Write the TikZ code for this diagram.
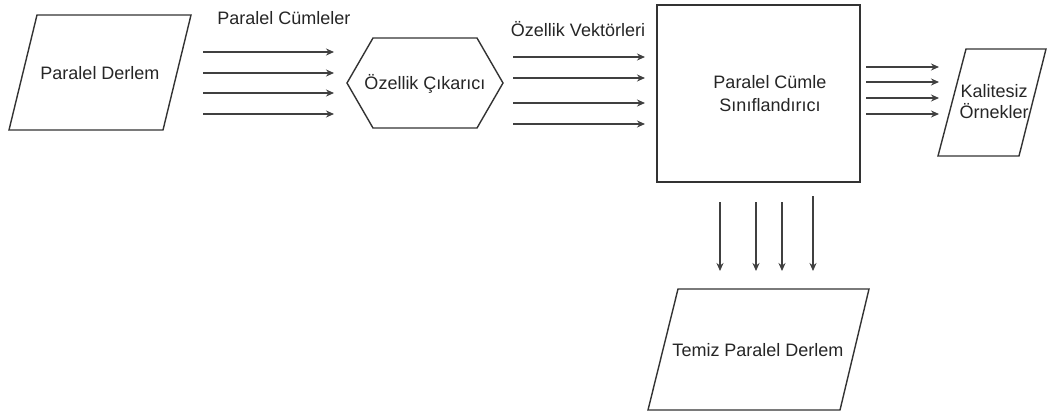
\documentclass[tikz,border=0pt]{standalone}
\usepackage{fontspec}
\setmainfont{Liberation Sans}
\usetikzlibrary{arrows.meta}
\tikzset{
  shapeline/.style={draw=black!80, line width=1.4pt, line join=miter},
  flow/.style={draw=black!75, line width=1.5pt, -{Stealth[length=8pt,width=7pt]}},
  lbl/.style={font=\fontsize{18}{23}\selectfont, text=black!85, inner sep=0pt, align=center},
}
\begin{document}
\begin{tikzpicture}[x=1pt,y=-1pt]
\useasboundingbox (0,0) rectangle (1049,416);
\fill[white] (0,0) rectangle (1049,416);

% input corpus
\draw[shapeline] (37,15) -- (191,15) -- (163,130) -- (9,130) -- cycle;
\node[lbl] (corpus) at (100,73) {Paralel Derlem};

% feature extractor
\draw[shapeline] (347,83) -- (373,38) -- (477,38) -- (503,83) -- (477,128) -- (373,128) -- cycle;
\node[lbl] (extract) at (425,84) {Özellik Çıkarıcı};

% classifier
\draw[shapeline] (657,5) rectangle (860,182);
\node[lbl] (classify) at (770,94) {Paralel Cümle\\Sınıflandırıcı};

% rejected samples
\draw[shapeline] (966,49) -- (1046,49) -- (1019,156) -- (938,156) -- cycle;
\node[lbl, align=center, font=\fontsize{18}{21}\selectfont] (bad) at (994,102) {Kalitesiz\\Örnekler};

% clean corpus
\draw[shapeline] (678,289) -- (869,289) -- (840,410) -- (648,410) -- cycle;
\node[lbl] (clean) at (758,350) {Temiz Paralel Derlem};

% bundle labels
\node[lbl] (l1) at (284,18) {Paralel Cümleler};
\node[lbl] (l2) at (578,29) {Özellik Vektörleri};

% sentence pairs into the extractor
\foreach \i/\y in {1/52,2/73,3/93,4/114}{
  \coordinate (a\i) at (203,\y);
  \coordinate (b\i) at (334,\y);
  \draw[flow] (a\i) -- (b\i);
}
% feature vectors into the classifier
\foreach \i/\y in {1/57,2/78,3/103,4/124}{
  \coordinate (c\i) at (513,\y);
  \coordinate (d\i) at (645,\y);
  \draw[flow] (c\i) -- (d\i);
}
% rejected pairs
\foreach \i/\y in {1/67,2/82,3/98,4/114}{
  \coordinate (e\i) at (866,\y);
  \coordinate (f\i) at (939,\y);
  \draw[flow] (e\i) -- (f\i);
}
% accepted pairs
\foreach \i/\x/\s in {1/720/202,2/756/202,3/782/202,4/813/196}{
  \coordinate (g\i) at (\x,\s);
  \coordinate (h\i) at (\x,271);
  \draw[flow] (g\i) -- (h\i);
}
\end{tikzpicture}
\end{document}
